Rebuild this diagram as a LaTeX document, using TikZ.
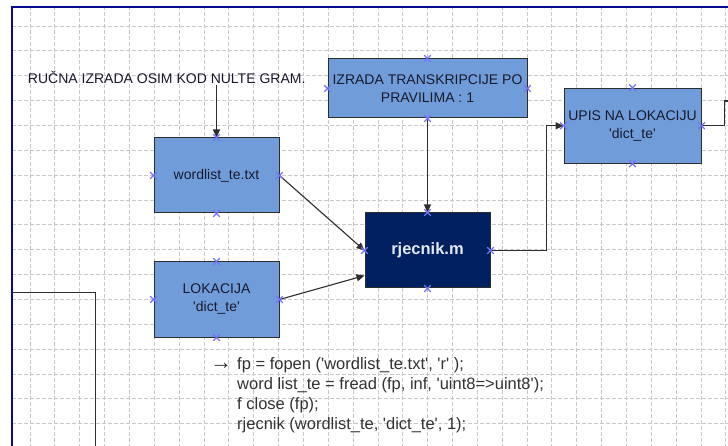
\documentclass[tikz,border=0pt]{standalone}
\usepackage{fontspec}
\setmainfont{Liberation Sans}
\usetikzlibrary{arrows.meta,calc}

\definecolor{boxblue}{RGB}{112,157,217}
\definecolor{navybox}{RGB}{0,32,96}
\definecolor{framecol}{RGB}{10,10,140}
\definecolor{gridcol}{RGB}{200,200,200}
\definecolor{markcol}{RGB}{115,115,245}
\definecolor{inktxt}{RGB}{25,25,45}
\definecolor{codetxt}{RGB}{50,50,50}
\definecolor{linecol}{RGB}{45,45,45}

\newcommand\squote{\textquotesingle}

\tikzset{
  xmark/.pic={\draw[markcol,line width=1.2pt] (-3.3,-3.3)--(3.3,3.3) (-3.3,3.3)--(3.3,-3.3);}
}

\begin{document}
\begin{tikzpicture}[x=1pt,y=-1pt,
  box/.style={draw=linecol, line width=1pt, fill=boxblue, text=inktxt,
    font=\fontsize{14}{18}\selectfont, align=center, inner sep=0pt},
  darkbox/.style={box, fill=navybox, text={rgb,255:red,228;green,232;blue,245},
    font=\fontsize{16.5}{20}\selectfont\bfseries},
  conn/.style={draw=linecol, line width=1.1pt},
  arr/.style={conn, -{Triangle[length=8pt,width=7pt]}},
  gridline/.style={draw=gridcol, line width=0.8pt, dash pattern=on 4pt off 2pt}
]
\useasboundingbox (0,0) rectangle (728,446);
\fill[white] (0,0) rectangle (728,446);

% page grid inside the frame
\begin{scope}
  \clip (13,8) rectangle (728,446);
  \foreach \i in {0,...,28} \draw[gridline] ({30+24.85*\i},0) -- ({30+24.85*\i},446);
  \foreach \j in {0,...,17} \draw[gridline] (0,{26+24.85*\j}) -- (728,{26+24.85*\j});
\end{scope}

% drawing frame
\draw[framecol, line width=2.2pt] (12,470) -- (12,7) -- (760,7);

% process boxes
\node[box, minimum width=125, minimum height=75] (wl) at (216.5,175.5) {wordlist\_te.txt};
\node[box, minimum width=125, minimum height=75] (lok) at (216.5,299.5) {LOKACIJA\\\squote dict\_te\squote};
\node[box, minimum width=199, minimum height=59] (izr) at (427.5,88.5) {IZRADA TRANSKRIPCIJE PO\\PRAVILIMA : 1};
\node[darkbox, minimum width=125, minimum height=75] (rj) at (427.5,250.5) {rjecnik.m};
\node[box, minimum width=137, minimum height=75] (up) at (632.5,125.8) {UPIS NA LOKACIJU\\\squote dict\_te\squote};

% annotation above the word list
\node[font=\fontsize{14}{18}\selectfont, text=inktxt, inner sep=1pt] (ruc) at (166.7,77.7) {RUČNA IZRADA OSIM KOD NULTE GRAM.};

% code listing
\node[font=\fontsize{22}{24}\selectfont, text=codetxt, inner sep=0pt] (carr) at (221,366.5) {→};
\node[anchor=north west, font=\fontsize{16.5}{20}\selectfont, text=codetxt, align=left, inner sep=0pt] (code) at (237,357)
  {fp = fopen (\squote wordlist\_te.txt\squote, \squote r\squote\ );\\
   word list\_te = fread (fp, inf, \squote uint8=>uint8\squote);\\
   f close (fp);\\
   rjecnik (wordlist\_te, \squote dict\_te\squote, 1);};

% connectors
\coordinate (offr) at (760,101);
\draw[arr] (ruc.south -| wl.north) -- (wl.north);
\draw[arr] (izr.south) -- (rj.north);
\draw[arr] (wl.east) -- (rj.west);
\draw[arr] (lok.east) -- ($(rj.west)!0.66!(rj.south west)$);
\draw[arr] (rj.east) -- ++(56,0) |- (up.west);
\draw[conn] (up.east) -- ++(23,0) |- (offr);

% partial outline at the lower left
\coordinate (la) at (12,293);
\coordinate (lb) at (95,293);
\coordinate (lc) at (95,470);
\draw[conn, line width=1pt] (la) -- (lb) -- (lc);

% connection point markers
\foreach \n in {wl,lok,izr,rj,up}
  \foreach \a in {north,south,east,west}
    \pic at (\n.\a) {xmark};
\end{tikzpicture}
\end{document}
